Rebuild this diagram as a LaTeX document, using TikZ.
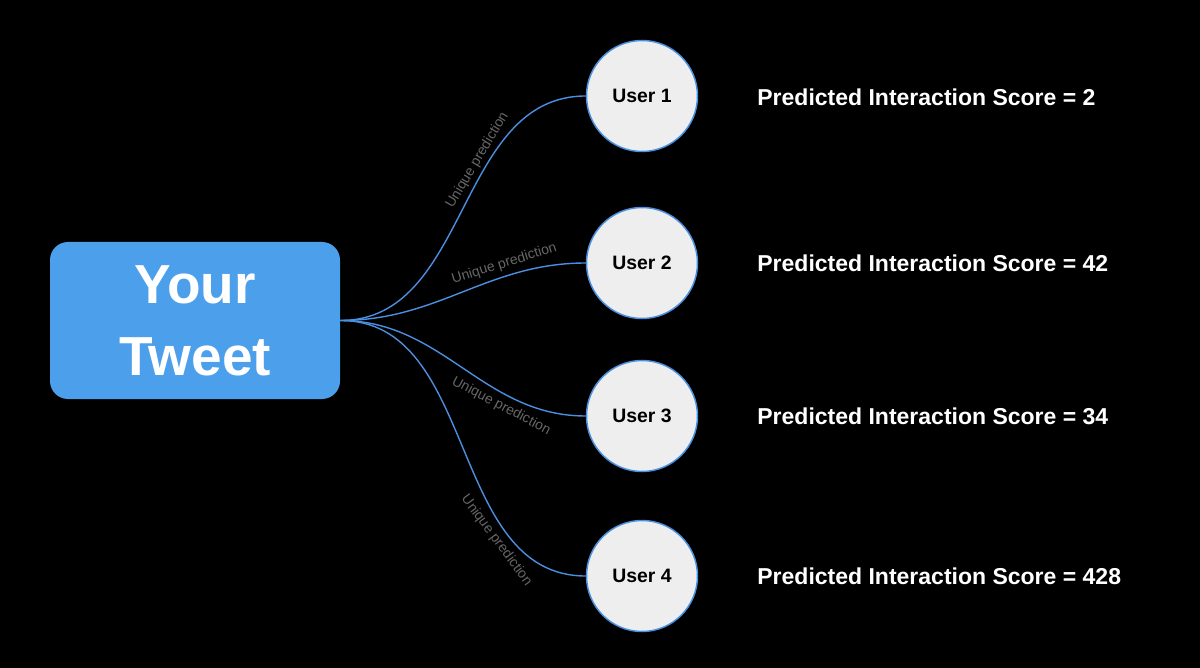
\documentclass[tikz,border=0pt]{standalone}
\usepackage{fontspec}
\setmainfont{Liberation Sans}
\usepackage{tikz}
\definecolor{tweetblue}{HTML}{4C9FEA}
\definecolor{linkblue}{HTML}{4A8FE0}
\definecolor{labelgray}{HTML}{666666}
\definecolor{usergray}{HTML}{EEEEEE}

\begin{document}
\begin{tikzpicture}[x=0.5pt,y=-0.5pt,
  every node/.style={font=\bfseries},
  user/.style={circle,draw=linkblue,line width=0.75pt,fill=usergray,minimum size=55.5pt,inner sep=0pt,font=\bfseries\fontsize{9.7}{11}\selectfont},
  score/.style={anchor=west,inner sep=0pt,text=white,font=\bfseries\fontsize{11.5}{13}\selectfont},
  link/.style={draw=linkblue,line width=0.7pt},
  uniq/.style={sloped,text=labelgray,inner sep=2.5pt,font=\fontsize{7}{8}\selectfont}]
  \useasboundingbox (0,0) rectangle (1200,668);
  \fill[black] (0,0) rectangle (1200,668);
  \node[fill=tweetblue,rounded corners=9pt,minimum width=145pt,minimum height=78.5pt,align=center,text=white,
    font=\bfseries\fontsize{27.5}{36}\selectfont] (tweet) at (195,320.5) {Your\\Tweet};
  \node[user] (u1) at (642,96) {User 1};
  \node[user] (u2) at (642,263) {User 2};
  \node[user] (u3) at (642,416) {User 3};
  \node[user] (u4) at (642,576) {User 4};
  \node[score] (s1) at (757,97) {Predicted Interaction Score = 2};
  \node[score] (s2) at (757,263) {Predicted Interaction Score = 42};
  \node[score] (s3) at (757,416) {Predicted Interaction Score = 34};
  \node[score] (s4) at (757,576) {Predicted Interaction Score = 428};
  \draw[link] (tweet.east) to[out=0,in=180] node[uniq,pos=0.63,above,inner sep=1.5pt] {Unique prediction} (u1.west);
  \draw[link] (tweet.east) to[out=0,in=180] node[uniq,pos=0.7,above] {Unique prediction} (u2.west);
  \draw[link] (tweet.east) to[out=0,in=180] node[uniq,pos=0.7,below] {Unique prediction} (u3.west);
  \draw[link] (tweet.east) to[out=0,in=180] node[uniq,pos=0.74,below] {Unique prediction} (u4.west);
\end{tikzpicture}
\end{document}
